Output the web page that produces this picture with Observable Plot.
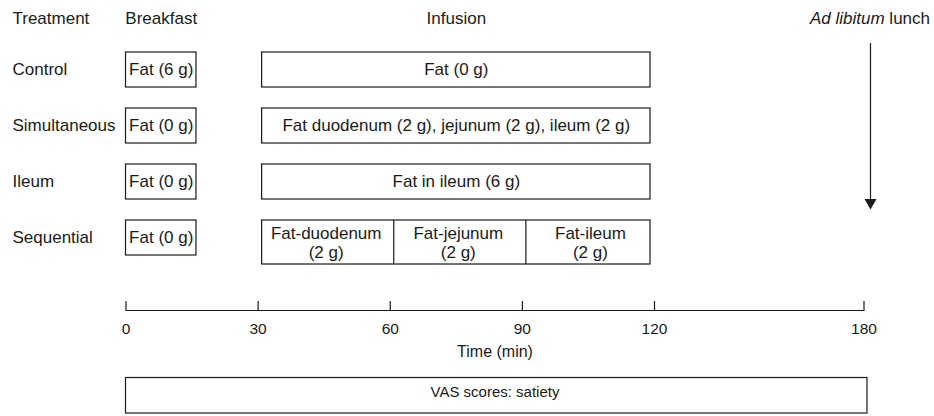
<!DOCTYPE html>
<html><head><meta charset="utf-8">
<script src="https://cdn.jsdelivr.net/npm/d3@7"></script>
<script src="https://cdn.jsdelivr.net/npm/@observablehq/plot@0.6"></script>
<style>
body{margin:0;background:#fff}
#chart{width:934px;height:416px}
</style>
</head><body><div id="chart"></div>
<script>
// ---- data ----
const treatments = ["Control", "Simultaneous", "Ileum", "Sequential"];
const breakfastStart = [0, 0, 0, 0];
const breakfastEnd = [16, 16, 16, 16];
const breakfastLabels = ["Fat (6 g)", "Fat (0 g)", "Fat (0 g)", "Fat (0 g)"];
const infusionTreatments = ["Control", "Simultaneous", "Ileum"];
const infusionLabels = ["Fat (0 g)", "Fat duodenum (2 g), jejunum (2 g), ileum (2 g)", "Fat in ileum (6 g)"];
const infusionStart = 30;
const infusionEnd = 120;
const sequentialStart = [30, 60, 90];
const sequentialEnd = [60, 90, 120];
const sequentialLabels = ["Fat-duodenum\n(2 g)", "Fat-jejunum\n(2 g)", "Fat-ileum\n(2 g)"];
const timeTicks = [0, 30, 60, 90, 120, 180];
const lunchTime = 180;
const vasStart = 0;
const vasEnd = 180;
const phaseHeaders = ["Breakfast", "Infusion"];

// ---- tables ----
const breakfast = treatments.map((t, i) => ({treatment: t, start: breakfastStart[i], end: breakfastEnd[i], label: breakfastLabels[i]}));
const infusion = infusionTreatments.map((t, i) => ({treatment: t, start: infusionStart, end: infusionEnd, label: infusionLabels[i]}));
const sequential = sequentialLabels.map((l, i) => ({treatment: "Sequential", start: sequentialStart[i], end: sequentialEnd[i], label: l}));
const headers = [
  {label: phaseHeaders[0], x: (breakfastStart[0] + breakfastEnd[0]) / 2},
  {label: phaseHeaders[1], x: (infusionStart + infusionEnd) / 2}
];
const mid = d => (d.start + d.end) / 2;

// ---- layout ----
const W = 934, H = 416;
const X0 = 125.5, X120 = 654, X180 = 863.5;
const axisY = 310;
const ink = "#1a1a1a";
const sw = 1.2;
const font = "'Liberation Sans', Arial, Helvetica, sans-serif";

const plot = Plot.plot({
  width: W, height: H,
  marginLeft: X0, marginRight: W - X180, marginTop: 0, marginBottom: H - axisY,
  style: {fontFamily: font, fontSize: "17px", color: ink, background: "white", overflow: "visible"},
  x: {type: "linear", domain: [0, 120, 180], range: [X0, X120, X180], axis: null},
  y: {type: "band", domain: treatments, range: [50, 257], paddingInner: 0.368, paddingOuter: 0, axis: null},
  marks: [
    // headers
    Plot.text(["Treatment"], {text: d => d, frameAnchor: "top-left", dx: 12 - X0, dy: 23, textAnchor: "start", lineAnchor: "bottom"}),
    Plot.text(headers, {x: "x", text: "label", frameAnchor: "top", dy: 23, lineAnchor: "bottom"}),
    Plot.text(["Ad libitum lunch"], {x: () => lunchTime, text: d => d, frameAnchor: "top", dx: 6, dy: 23, lineAnchor: "bottom"}),
    // row labels
    Plot.text(treatments, {y: d => d, text: d => d, frameAnchor: "left", dx: 12 - X0, textAnchor: "start"}),
    // breakfast
    Plot.rect(breakfast, {x1: "start", x2: "end", y: "treatment", fill: "white", stroke: ink, strokeWidth: sw}),
    Plot.text(breakfast, {x: mid, y: "treatment", text: "label"}),
    // infusion
    Plot.rect(infusion, {x1: "start", x2: "end", y: "treatment", insetLeft: 4, insetRight: 4, fill: "white", stroke: ink, strokeWidth: sw}),
    Plot.text(infusion, {x: mid, y: "treatment", text: "label"}),
    // sequential infusion
    Plot.rect([{treatment: "Sequential", start: sequentialStart[0], end: sequentialEnd[sequentialEnd.length - 1]}],
      {x1: "start", x2: "end", y: "treatment", insetLeft: 4, insetRight: 4, insetBottom: -9, fill: "white", stroke: ink, strokeWidth: sw}),
    Plot.ruleX(sequentialStart.slice(1), {x: d => d, y1: () => "Sequential", y2: () => "Sequential", dx: 3.5, insetBottom: -9, stroke: ink, strokeWidth: sw}),
    Plot.text(sequential, {x: mid, y: "treatment", text: "label", dx: 2, dy: 4.5, lineHeight: 1.1}),
    // lunch arrow
    Plot.ruleX([lunchTime], {x: d => d, dx: 6.5, insetTop: 43, insetBottom: axisY - 200, stroke: ink, strokeWidth: sw}),
    Plot.dot([lunchTime], {x: d => d, frameAnchor: "top", dx: 6.5, dy: 202, symbol: "triangle", rotate: 180, r: 4.45, fill: ink, stroke: null}),
    // time axis
    Plot.frame({anchor: "bottom", stroke: ink, strokeWidth: sw}),
    Plot.ruleX(timeTicks, {x: d => d, insetTop: 301, stroke: ink, strokeWidth: sw}),
    Plot.axisX(timeTicks, {tickSize: 0, tickPadding: 12, fontSize: 15.5, label: null}),
    Plot.text(["Time (min)"], {text: d => d, frameAnchor: "bottom", dy: 46, fontSize: 16}),
    // VAS box
    Plot.rect([{start: vasStart, end: vasEnd}], {x1: "start", x2: "end", insetTop: 377.5, insetBottom: axisY - 413, insetRight: -3.5, fill: "none", stroke: ink, strokeWidth: sw}),
    Plot.text(["VAS scores: satiety"], {text: d => d, frameAnchor: "bottom", dy: 86, fontSize: 15})
  ]
});
document.getElementById("chart").appendChild(plot);

// italicise "Ad libitum"
for (const lt of plot.querySelectorAll("text")) {
  if (lt.textContent === "Ad libitum lunch") {
    lt.textContent = "";
    const a = document.createElementNS("http://www.w3.org/2000/svg", "tspan");
    a.setAttribute("font-style", "italic");
    a.textContent = "Ad libitum";
    const b = document.createElementNS("http://www.w3.org/2000/svg", "tspan");
    b.textContent = " lunch";
    lt.appendChild(a); lt.appendChild(b);
  }
}
</script>
</body></html>
